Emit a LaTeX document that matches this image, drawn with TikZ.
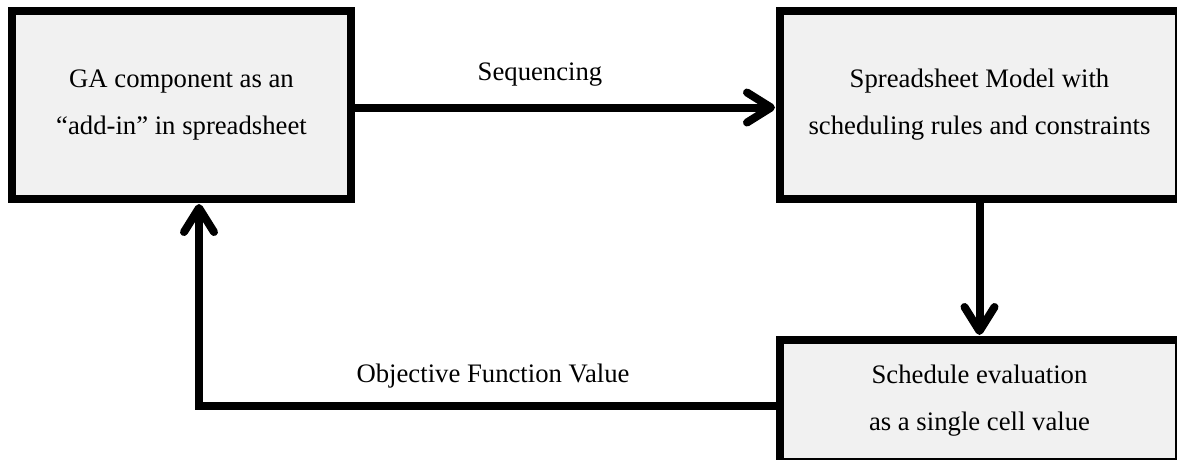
\documentclass[tikz,border=0pt]{standalone}
\usepackage{fontspec}
\setmainfont{Liberation Serif}
\usetikzlibrary{arrows.meta,calc}
\definecolor{boxfill}{HTML}{F1F1F1}
\tikzset{
  block/.style={draw=black, line width=8pt, fill=boxfill, inner sep=0pt,
    align=center, font=\fontsize{26.7}{47}\selectfont},
  flow/.style={line width=8pt, line join=miter,
    -{Straight Barb[length=24pt, width=30pt, round]}, shorten >=1pt},
  lbl/.style={inner sep=0pt, anchor=base, font=\fontsize{26.7}{32}\selectfont}
}
\begin{document}
\begin{tikzpicture}[x=1pt, y=-1pt]
  \path[use as bounding box] (0,0) rectangle (1177,459);
  \clip (0,0) rectangle (1177,459);

  % helper points for the connector routes
  \coordinate (seqy) at (0,107.5);
  \coordinate (turn) at (199,406);

  % blocks
  \node[block, minimum width=339pt, minimum height=188pt] (ga) at (181.5,105)
    {GA component as an\\``add-in'' in spreadsheet};
  \node[block, minimum width=399pt, minimum height=188pt] (model) at (979.5,105)
    {Spreadsheet Model with\\scheduling rules and constraints};
  \node[block, minimum width=399pt, minimum height=122pt] (eval) at (979.5,401)
    {Schedule evaluation\\as a single cell value};

  % connectors
  \draw[flow] (ga.east |- seqy) -- (model.west |- seqy);
  \draw[flow] (model.south) -- (eval.north);
  \draw[flow] (eval.west |- turn) -- (turn) -- (turn |- ga.south);

  % labels
  \node[lbl] (seq) at (540,80) {Sequencing};
  \node[lbl] (obj) at (493,382) {Objective Function Value};
\end{tikzpicture}
\end{document}
